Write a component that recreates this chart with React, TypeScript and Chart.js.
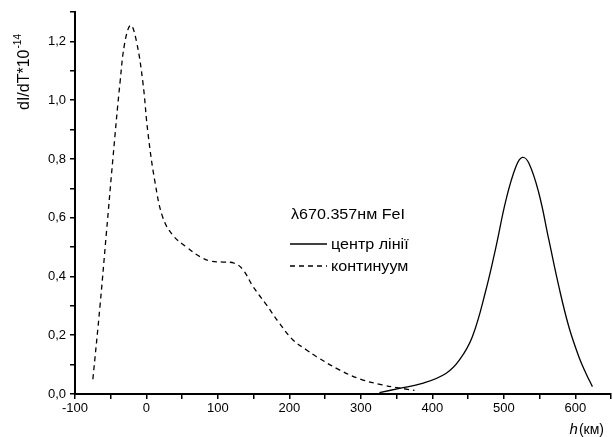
import React, { useEffect, useRef } from "react";
import { Chart, registerables } from "chart.js";

Chart.register(...registerables);

// Continuum (dashed) contribution function
const contH = [-75, -65, -56, -47, -37, -30, -22, -14, -5, 2, 12, 23, 37, 56, 75, 90, 107, 123, 135, 149, 168, 186, 205, 224, 238, 270, 300, 330, 350, 368, 375];
const contY = [0.05, 0.3, 0.55, 0.8, 1.06, 1.2, 1.255, 1.2, 1.06, 0.89, 0.72, 0.6, 0.54, 0.5, 0.467, 0.452, 0.449, 0.445, 0.423, 0.366, 0.303, 0.241, 0.184, 0.15, 0.127, 0.082, 0.05, 0.031, 0.022, 0.015, 0.012];

// Line centre (solid) contribution function
const lineH = [326, 354, 386, 419, 438, 456, 475, 489, 503, 517, 526, 535, 549, 563, 577, 591, 605, 615, 624];
const lineY = [0.005, 0.019, 0.036, 0.07, 0.116, 0.195, 0.354, 0.5, 0.66, 0.774, 0.805, 0.786, 0.684, 0.525, 0.366, 0.229, 0.127, 0.07, 0.025];

const legendTitle = "λ670.357нм FeI";
const seriesNames = ["центр лінії", "континуум"];
const yTitleMain = "dI/dT*10";
const yTitleSup = "-14";
const xTitleItalic = "h";
const xTitleRest = "(км)";

const FONT = "'Liberation Sans', Arial, sans-serif";

export default function App() {
  const ref = useRef<HTMLCanvasElement>(null);

  useEffect(() => {
    document.body.style.margin = "0";
    const canvas = ref.current!;
    const textPlugin = {
      id: "customText",
      afterDraw(chart: any) {
        const ctx = chart.ctx as CanvasRenderingContext2D;
        ctx.save();
        ctx.fillStyle = "#000";
        ctx.strokeStyle = "#000";
        // Y title
        ctx.save();
        ctx.translate(29, 110);
        ctx.rotate(-Math.PI / 2);
        ctx.textBaseline = "alphabetic";
        ctx.textAlign = "left";
        ctx.font = `16px ${FONT}`;
        ctx.fillText(yTitleMain, 0, 0);
        const w = ctx.measureText(yTitleMain).width;
        ctx.font = `10px ${FONT}`;
        ctx.fillText(yTitleSup, w + 1, -8);
        ctx.restore();

        // X title
        ctx.textBaseline = "alphabetic";
        ctx.textAlign = "left";
        ctx.font = `italic 15px ${FONT}`;
        const wh = ctx.measureText(xTitleItalic).width;
        ctx.font = `14px ${FONT}`;
        const wr = ctx.measureText(xTitleRest).width;
        const x0 = 603 - wh - wr;
        ctx.font = `italic 15px ${FONT}`;
        ctx.fillText(xTitleItalic, x0, 434);
        ctx.font = `14px ${FONT}`;
        ctx.fillText(xTitleRest, x0 + wh + 1, 434);

        // Legend
        const sx = 1.15;
        const drawText = (t: string, x: number, y: number) => {
          ctx.save();
          ctx.translate(x, y);
          ctx.scale(sx, 1);
          ctx.fillText(t, 0, 0);
          ctx.restore();
        };
        ctx.font = `14px ${FONT}`;
        drawText(legendTitle, 291, 219);
        ctx.lineWidth = 1.3;
        ctx.beginPath();
        ctx.moveTo(290, 244);
        ctx.lineTo(327, 244);
        ctx.stroke();
        ctx.setLineDash([5, 4]);
        ctx.beginPath();
        ctx.moveTo(290, 266);
        ctx.lineTo(327, 266);
        ctx.stroke();
        ctx.setLineDash([]);
        drawText(seriesNames[0], 331, 249);
        drawText(seriesNames[1], 331, 271);
        ctx.restore();
      },
    };

    const chart = new Chart(canvas, {
      type: "line",
      data: {
        datasets: [
          {
            label: seriesNames[0],
            data: lineH.map((h, i) => ({ x: h, y: lineY[i] })),
            borderColor: "#000",
            borderWidth: 1.3,
            pointRadius: 0,
            fill: false,
            tension: 0.4,
          },
          {
            label: seriesNames[1],
            data: contH.map((h, i) => ({ x: h, y: contY[i] })),
            borderColor: "#000",
            borderWidth: 1.3,
            borderDash: [5, 4],
            pointRadius: 0,
            fill: false,
            tension: 0.4,
          },
        ],
      },
      options: {
        responsive: false,
        animation: false,
        devicePixelRatio: 1,
        layout: { padding: { top: 12, right: 1, left: 0, bottom: 0 } },
        plugins: { legend: { display: false }, tooltip: { enabled: false }, title: { display: false } },
        scales: {
          x: {
            type: "linear",
            min: -100,
            max: 650,
            border: { display: true, color: "#000", width: 2 },
            grid: { display: true, drawOnChartArea: false, drawTicks: true, tickLength: 5, color: "#000", lineWidth: 1.5 },
            ticks: {
              stepSize: 50,
              autoSkip: false,
              maxRotation: 0,
              padding: 2,
              color: "#000",
              font: { family: FONT, size: 13 },
              callback: (v: any) => (Math.round(v) % 100 === 0 && v < 650 ? String(v) : ""),
            },
            afterFit: (s: any) => {
              s.height = 43;
            },
          },
          y: {
            type: "linear",
            min: 0,
            max: 1.3,
            border: { display: true, color: "#000", width: 2 },
            grid: { display: true, drawOnChartArea: false, drawTicks: true, tickLength: 5, color: "#000", lineWidth: 1.5 },
            ticks: {
              stepSize: 0.1,
              autoSkip: false,
              padding: 4,
              color: "#000",
              font: { family: FONT, size: 13 },
              callback: (v: any) => {
                const k = Math.round(v * 10);
                return k % 2 === 0 && k <= 12 ? (k / 10).toFixed(1).replace(".", ",") : "";
              },
            },
            afterFit: (s: any) => {
              s.width = 75;
            },
          },
        },
      },
      plugins: [textPlugin],
    } as any);
    return () => chart.destroy();
  }, []);

  return (
    <div style={{ width: 613, height: 437 }}>
      <canvas ref={ref} width={613} height={437} style={{ display: "block", width: 613, height: 437 }} />
    </div>
  );
}
